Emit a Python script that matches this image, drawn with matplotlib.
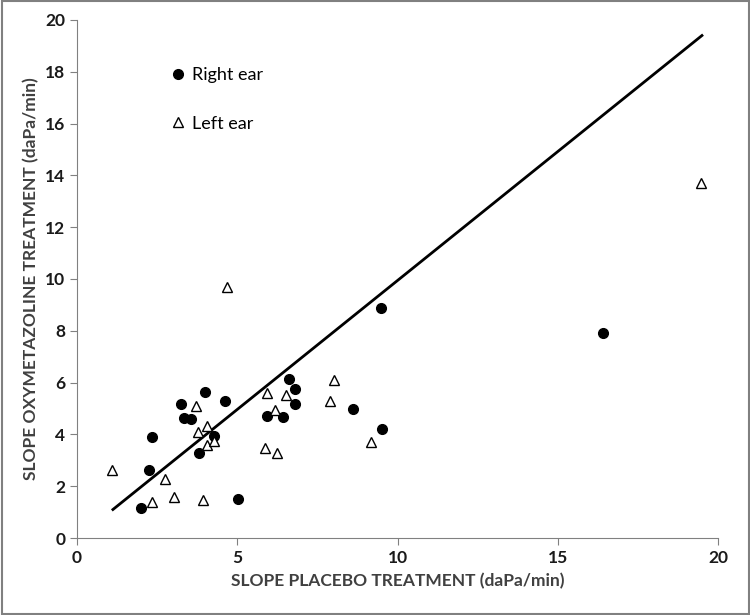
import matplotlib
matplotlib.use('Agg')
import matplotlib.pyplot as plt
from matplotlib.patches import Rectangle

# Right ear: placebo slope (x) vs oxymetazoline slope (y)
right_x = [2.0, 2.25, 2.33, 3.25, 3.34, 3.55, 3.82, 4.0, 4.27, 4.61,
           5.01, 5.94, 6.43, 6.61, 6.79, 6.80, 8.62, 9.50, 9.52, 16.42]
right_y = [1.14, 2.62, 3.91, 5.16, 4.63, 4.61, 3.27, 5.65, 3.94, 5.28,
           1.51, 4.72, 4.66, 6.12, 5.18, 5.77, 4.99, 8.87, 4.20, 7.90]

# Left ear
left_x = [1.09, 2.34, 2.76, 3.03, 3.71, 3.77, 3.94, 4.06, 4.07, 4.28,
          4.67, 5.85, 5.94, 6.17, 6.25, 6.53, 7.89, 8.02, 9.16, 19.48]
left_y = [2.63, 1.40, 2.28, 1.60, 5.10, 4.11, 1.46, 4.34, 3.58, 3.74,
          9.71, 3.47, 5.59, 4.93, 3.27, 5.53, 5.30, 6.10, 3.70, 13.70]

# identity line end points
line_x = [1.12, 19.5]
line_y = [1.10, 19.4]

plt.rcParams['font.family'] = ['Lato', 'DejaVu Sans']

fig = plt.figure(figsize=(7.5, 6.15), dpi=100)
ax = fig.add_axes([0.1027, 0.1252, 0.8546, 0.8423])

ax.plot(line_x, line_y, color='black', linewidth=2)
ax.plot(right_x, right_y, 'o', color='black', markersize=7, label='Right ear')
ax.plot(left_x, left_y, '^', markerfacecolor='white', markeredgecolor='black',
        markeredgewidth=1.0, markersize=6.5, label='Left ear')

ax.set_xlim(0, 20)
ax.set_ylim(0, 20)
ax.set_xticks([0, 5, 10, 15, 20])
ax.set_yticks(range(0, 21, 2))
ax.spines['top'].set_visible(False)
ax.spines['right'].set_visible(False)
ax.spines['left'].set_color('#808080')
ax.spines['bottom'].set_color('#808080')
ax.tick_params(direction='out', length=5, color='#808080', labelsize=12.5)
for lbl in ax.get_xticklabels() + ax.get_yticklabels():
    lbl.set_fontweight('bold')
    lbl.set_color('#1a1a1a')

ax.set_xlabel('SLOPE PLACEBO TREATMENT (daPa/min)', fontsize=12.5, fontweight='bold',
              color='#404040', labelpad=5)
ax.set_ylabel('SLOPE OXYMETAZOLINE TREATMENT (daPa/min)', fontsize=12.5, fontweight='bold',
              color='#404040', labelpad=4)

ax.legend(loc='upper left', bbox_to_anchor=(0.115, 0.94), frameon=False,
          fontsize=13, labelspacing=1.8, handletextpad=0.2, handlelength=1.2)

# outer frame of the picture
fig.patches.append(Rectangle((0.002, 0.002), 0.996, 0.996, transform=fig.transFigure,
                             fill=False, edgecolor='#808080', linewidth=1.5))

fig.savefig('out.png', dpi=100)
